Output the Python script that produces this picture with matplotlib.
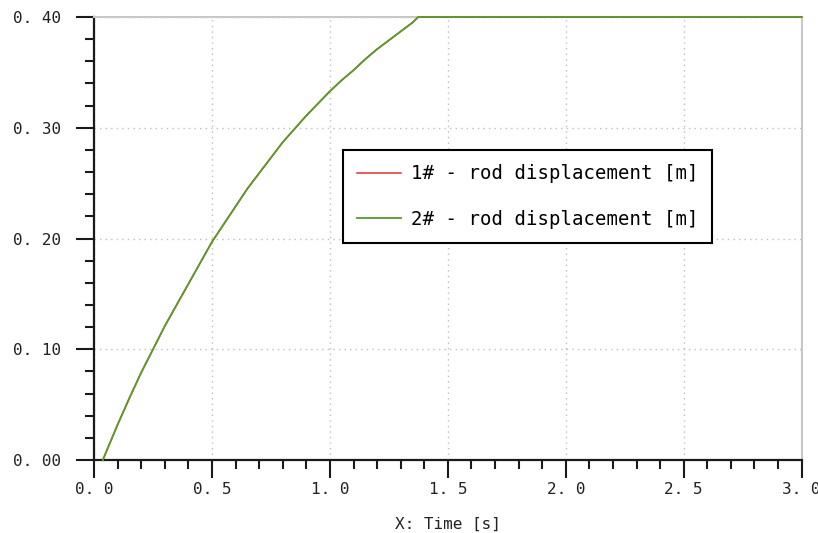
import matplotlib.pyplot as plt
from matplotlib.ticker import MultipleLocator, FuncFormatter

# values
time_s = [0.037, 0.10, 0.15, 0.20, 0.25, 0.30, 0.35, 0.40, 0.45, 0.50,
          0.55, 0.60, 0.65, 0.70, 0.75, 0.80, 0.85, 0.90, 0.95, 1.00,
          1.05, 1.10, 1.15, 1.20, 1.25, 1.30, 1.35, 1.374, 2.0, 3.0]
rod1_disp = [0.0, 0.032, 0.056, 0.079, 0.100, 0.121, 0.140, 0.159, 0.178, 0.197,
             0.213, 0.229, 0.245, 0.259, 0.273, 0.287, 0.299, 0.311, 0.322, 0.333,
             0.343, 0.352, 0.362, 0.371, 0.379, 0.387, 0.395, 0.400, 0.400, 0.400]
rod2_disp = list(rod1_disp)

x_ticks = [0.0, 0.5, 1.0, 1.5, 2.0, 2.5, 3.0]
y_ticks = [0.0, 0.1, 0.2, 0.3, 0.4]

mono = 'DejaVu Sans Mono'

fig = plt.figure(figsize=(8.18, 5.33), dpi=100)
ax = fig.add_axes([0.115, 0.137, 0.865, 0.831])

ax.plot(time_s, rod1_disp, color='#e03030', lw=1.1, label='1# - rod displacement [m]',
        clip_on=False, zorder=5)
ax.plot(time_s, rod2_disp, color='#5a9a2a', lw=1.3, label='2# - rod displacement [m]',
        clip_on=False, zorder=6)

ax.set_xlim(0, 3.0)
ax.set_ylim(0, 0.40)
ax.set_xticks(x_ticks)
ax.set_yticks(y_ticks)
ax.xaxis.set_minor_locator(MultipleLocator(0.1))
ax.yaxis.set_minor_locator(MultipleLocator(0.02))
ax.xaxis.set_major_formatter(FuncFormatter(lambda v, p: ('%.1f' % v).replace('.', '. ')))
ax.yaxis.set_major_formatter(FuncFormatter(lambda v, p: ('%.2f' % v).replace('.', '. ')))

ax.grid(True, which='major', color='#bdbdbd', linestyle=(0, (1, 3)), lw=1)

for s in ['left', 'bottom']:
    ax.spines[s].set_linewidth(1.6)
    ax.spines[s].set_color('#1a1a1a')
for s in ['top', 'right']:
    ax.spines[s].set_linewidth(1.5)
    ax.spines[s].set_color('#c8c8c8')

ax.tick_params(axis='both', which='major', length=13, width=1.5, color='#1a1a1a')
ax.tick_params(axis='both', which='minor', length=6.5, width=1.5, color='#1a1a1a')
ax.tick_params(axis='y', which='major', pad=11, labelsize=11.5)
ax.tick_params(axis='x', which='major', pad=3, labelsize=11.5)
for lab in ax.get_xticklabels() + ax.get_yticklabels():
    lab.set_family(mono)
    lab.set_color('#222222')

ax.set_xlabel('X: Time [s]', family=mono, fontsize=11.5, labelpad=14, color='#222222')

leg = ax.legend(loc='upper left', bbox_to_anchor=(0.352, 0.70), borderaxespad=0,
                prop={'family': mono, 'size': 13.7}, fancybox=False, framealpha=1,
                edgecolor='black', handlelength=2.3, labelspacing=1.4,
                borderpad=0.75, handletextpad=0.5)
leg.get_frame().set_linewidth(1.5)
leg.set_zorder(10)

fig.savefig('out.png', dpi=100)
